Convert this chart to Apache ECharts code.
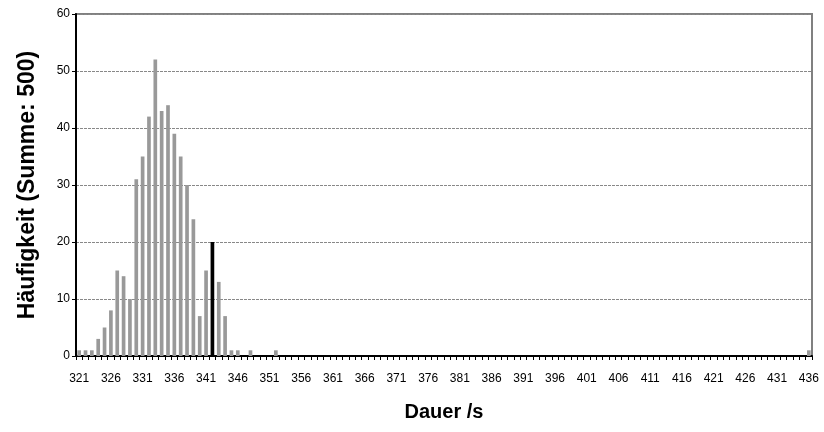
<!DOCTYPE html>
<html>
<head>
<meta charset="utf-8">
<script src="https://cdn.jsdelivr.net/npm/echarts@6/dist/echarts.min.js"></script>
<style>
  html, body { margin: 0; padding: 0; background: #fff; }
  #chart { width: 824px; height: 432px; }
</style>
</head>
<body>
<div id="chart"></div>
<script>
// Dauer-Klassen in Sekunden (321 ... 436)
const dauerStart = 321;
const dauerEnde = 436;
const kategorien = [];
for (let d = dauerStart; d <= dauerEnde; d++) kategorien.push(String(d));

// Häufigkeiten je Dauer (nur besetzte Klassen, übrige sind 0)
const besetzteKlassen = ['321','322','323','324','325','326','327','328','329','330',
  '331','332','333','334','335','336','337','338','339','340',
  '341','342','343','344','345','346','348','352','436'];
const besetzteWerte = [1, 1, 1, 3, 5, 8, 15, 14, 10, 31,
  35, 42, 52, 43, 44, 39, 35, 30, 24, 7,
  15, 20, 13, 7, 1, 1, 1, 1, 1];

// hervorgehobene Klasse (schwarzer Balken)
const markierteKlasse = '342';

const haeufigkeit = kategorien.map(k => {
  const i = besetzteKlassen.indexOf(k);
  return i >= 0 ? besetzteWerte[i] : 0;
});

const balken = haeufigkeit.map((v, i) => kategorien[i] === markierteKlasse
  ? { value: v, itemStyle: { color: '#000000' } }
  : v);

const chart = echarts.init(document.getElementById('chart'), null, { renderer: 'canvas' });
chart.setOption({
  animation: false,
  backgroundColor: '#ffffff',
  grid: {
    left: 76, right: 12, top: 14, bottom: 76,
    show: true, borderColor: '#808080', borderWidth: 2
  },
  xAxis: {
    type: 'category',
    data: kategorien,
    boundaryGap: true,
    name: 'Dauer /s',
    nameLocation: 'middle',
    nameGap: 46,
    nameMoveOverlap: false,
    nameTextStyle: { fontFamily: 'Liberation Sans', fontWeight: 'bold', fontSize: 20, color: '#000' },
    axisLine: { lineStyle: { color: '#000', width: 2 } },
    axisTick: { show: true, interval: 0, length: 4, lineStyle: { color: '#000', width: 1 } },
    axisLabel: { interval: 4, fontFamily: 'Liberation Sans', fontSize: 12, color: '#000', margin: 17 },
    splitLine: { show: false }
  },
  yAxis: {
    type: 'value',
    min: 0, max: 60, interval: 10,
    name: 'Häufigkeit (Summe: 500)',
    nameLocation: 'middle',
    nameGap: 37,
    nameMoveOverlap: false,
    nameRotate: 90,
    nameTextStyle: { fontFamily: 'Liberation Sans', fontWeight: 'bold', fontSize: 23, color: '#000' },
    axisLine: { show: true, lineStyle: { color: '#000', width: 2 } },
    axisTick: { show: true, length: 4, lineStyle: { color: '#000', width: 1 } },
    axisLabel: { fontFamily: 'Liberation Sans', fontSize: 12, color: '#000', margin: 6 },
    splitLine: { show: true, lineStyle: { color: '#888888', type: [3, 1], width: 1 } }
  },
  series: [{
    type: 'bar',
    data: balken,
    barWidth: '58%',
    itemStyle: { color: '#999999' }
  }]
});
</script>
</body>
</html>
